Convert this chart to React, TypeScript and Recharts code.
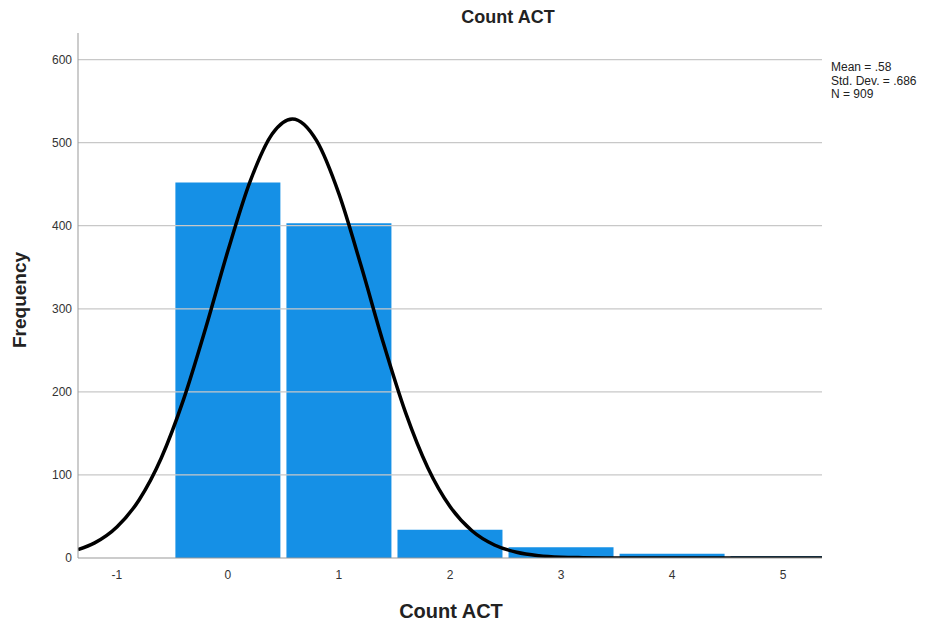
import React from "react";
import {
  ComposedChart,
  Bar,
  Line,
  XAxis,
  YAxis,
  ReferenceLine,
} from "recharts";

const binValues = [0, 1, 2, 3, 4, 5];
const binCounts = [452, 403, 34, 13, 5, 2];

const curveX = [
  -1.35, -1.2, -1.0, -0.8, -0.6, -0.4, -0.2, 0, 0.2, 0.4, 0.58, 0.8, 1.0, 1.2,
  1.4, 1.6, 1.8, 2.0, 2.2, 2.4, 2.6, 2.8, 3.0, 3.2, 3.4, 3.6, 4.0, 4.5, 5.0,
  5.35,
];
const curveY = [
  10.1, 18.2, 37.3, 69.9, 120.4, 190.6, 276.9, 369.8, 453.4, 510.7, 528.6,
  502.1, 438.3, 351.4, 258.8, 175.0, 108.7, 62.0, 32.5, 15.7, 6.9, 2.8, 1.0,
  0.4, 0.1, 0, 0, 0, 0, 0,
];

const xTicks = [-1, 0, 1, 2, 3, 4, 5];
const yTicks = [0, 100, 200, 300, 400, 500, 600];
const gridValues = [100, 200, 300, 400, 500, 600];

const titleText = "Count ACT";
const xLabel = "Count ACT";
const yLabel = "Frequency";
const statLines = ["Mean = .58", "Std. Dev. = .686", "N = 909"];

const barData = binValues.map((v, i) => ({ x: v, count: binCounts[i] }));
const curveData = curveX.map((v, i) => ({ cx: v, normal: curveY[i] }));

const FONT = "'Liberation Sans', Arial, sans-serif";
const X_DOMAIN: [number, number] = [-1.35, 5.35];

export default function App() {
  const W = 927;
  const H = 618;
  return (
    <div style={{ position: "relative", width: W, height: H }}>
      <ComposedChart
        width={W}
        height={H}
        data={barData}
        margin={{ top: 25, right: 113, bottom: 28, left: 20 }}
      >
        <XAxis
          xAxisId="bars"
          dataKey="x"
          type="number"
          domain={X_DOMAIN}
          ticks={xTicks}
          allowDataOverflow={true}
          height={40}
          tickSize={0}
          tickMargin={12}
          stroke="#999"
          tick={{ fill: "#333", fontSize: 12, fontFamily: FONT }}
        />
        <XAxis
          xAxisId="curve"
          dataKey="cx"
          type="number"
          domain={X_DOMAIN}
          allowDataOverflow={true}
          hide={true}
        />
        <YAxis
          type="number"
          domain={[0, 632]}
          ticks={yTicks}
          allowDataOverflow={true}
          width={50}
          tickSize={0}
          tickMargin={6}
          stroke="#999"
          tick={{ fill: "#333", fontSize: 12, fontFamily: FONT }}
        />
        {gridValues.map((g) => (
          <ReferenceLine
            key={g}
            y={g}
            xAxisId="bars"
            stroke="#c8c8c8"
            strokeWidth={1.3}
          />
        ))}
        <Bar
          xAxisId="bars"
          dataKey="count"
          fill="#1590e6"
          barSize={105}
          isAnimationActive={false}
        />
        <Line
          xAxisId="curve"
          data={curveData}
          dataKey="normal"
          type="monotone"
          stroke="#000"
          strokeWidth={3.5}
          dot={false}
          activeDot={false}
          isAnimationActive={false}
        />
      </ComposedChart>
      <svg
        width={W}
        height={H}
        style={{ position: "absolute", left: 0, top: 0, pointerEvents: "none" }}
      >
        <text
          x={500}
          y={15}
          textAnchor="middle"
          fontFamily={FONT}
          fontWeight="bold"
          fontSize={18}
          fill="#222"
        >
          {titleText}
        </text>
        <text
          x={443}
          y={610}
          textAnchor="middle"
          fontFamily={FONT}
          fontWeight="bold"
          fontSize={20}
          fill="#222"
        >
          {xLabel}
        </text>
        <text
          transform="translate(18,292) rotate(-90)"
          textAnchor="middle"
          fontFamily={FONT}
          fontWeight="bold"
          fontSize={19}
          fill="#222"
        >
          {yLabel}
        </text>
        {statLines.map((s, i) => (
          <text
            key={i}
            x={823}
            y={63 + i * 13.5}
            fontFamily={FONT}
            fontSize={12}
            fill="#222"
          >
            {s}
          </text>
        ))}
      </svg>
    </div>
  );
}
